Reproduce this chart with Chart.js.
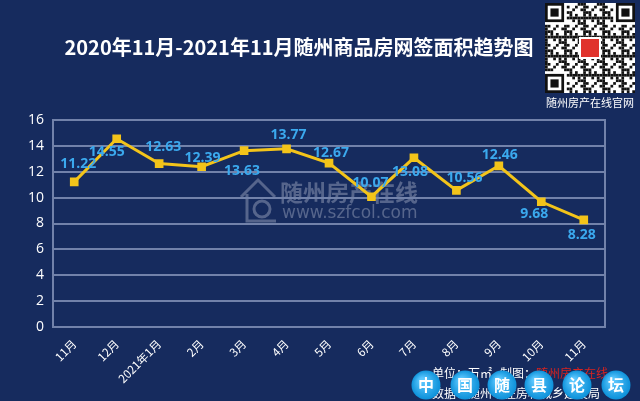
<!DOCTYPE html>
<html>
<head>
<meta charset="utf-8">
<title>随州商品房网签面积趋势图</title>
<script src="https://cdn.jsdelivr.net/npm/chart.js"></script>
<style>
  html, body { margin: 0; padding: 0; background: #162b5e; }
  #wrap { width: 640px; height: 401px; position: relative; }
</style>
</head>
<body>
<div id="wrap"><canvas id="trend" width="640" height="401"></canvas></div>
<script>
// data
const months = ['11月', '12月', '2021年1月', '2月', '3月', '4月', '5月', '6月', '7月', '8月', '9月', '10月', '11月'];
const area = [11.22, 14.55, 12.63, 12.39, 13.63, 13.77, 12.67, 10.07, 13.08, 10.56, 12.46, 9.68, 8.28];
const yTicks = [0, 2, 4, 6, 8, 10, 12, 14, 16];

// where each value label sits relative to its point (dx, dy)
const labelShift = [[4, -18], [-10, 13], [4, -17], [1, -9], [-2, 20], [2, -14], [2, -10],
                    [-1, -14], [-4, 14], [8, -12], [1, -11], [-7, 12], [-2, 15]];

const CJK = '"Noto Sans CJK SC", "Noto Sans", sans-serif';

// background, title, decorations
const backdrop = {
  id: 'backdrop',
  beforeDraw(chart) {
    const ctx = chart.ctx;
    ctx.save();
    ctx.fillStyle = '#162b5e';
    ctx.fillRect(0, 0, chart.width, chart.height);

    // watermark in the middle
    ctx.fillStyle = 'rgba(150,160,185,0.5)';
    ctx.font = 'bold 23px ' + CJK;
    ctx.textBaseline = 'middle';
    ctx.fillText('随州房产在线', 280, 192);
    ctx.font = '17px "DejaVu Sans", sans-serif';
    ctx.fillText('www.szfcol.com', 282, 214);
    // little house
    ctx.strokeStyle = 'rgba(150,160,185,0.5)';
    ctx.lineWidth = 3;
    ctx.beginPath();
    ctx.moveTo(241, 197); ctx.lineTo(258, 180); ctx.lineTo(275, 197);
    ctx.moveTo(247, 194); ctx.lineTo(247, 221); ctx.lineTo(276, 221);
    ctx.stroke();
    ctx.beginPath();
    ctx.arc(262, 209, 8, 0, Math.PI * 2);
    ctx.stroke();
    ctx.restore();
  },
  afterDraw(chart) {
    const ctx = chart.ctx;
    ctx.save();
    // title
    ctx.fillStyle = '#ffffff';
    ctx.font = 'bold 20px ' + CJK;
    ctx.textAlign = 'center';
    ctx.textBaseline = 'middle';
    ctx.fillText('2020年11月-2021年11月随州商品房网签面积趋势图', 299, 47);

    // QR-like block top right
    const qx = 545, qy = 3, qs = 90, n = 33, m = qs / n;
    ctx.fillStyle = '#ffffff';
    ctx.fillRect(qx, qy, qs, qs);
    ctx.fillStyle = '#111111';
    for (let r = 0; r < n; r++) {
      for (let c = 0; c < n; c++) {
        const finder = (r < 8 && c < 8) || (r < 8 && c > n - 9) || (r > n - 9 && c < 8);
        if (finder) continue;
        if (((r * 7 + c * 13 + r * c * 3) % 7) < 3) ctx.fillRect(qx + c * m, qy + r * m, m, m);
      }
    }
    [[0, 0], [0, n - 7], [n - 7, 0]].forEach(([r, c]) => {
      const x = qx + c * m, y = qy + r * m;
      ctx.fillStyle = '#111111'; ctx.fillRect(x, y, 7 * m, 7 * m);
      ctx.fillStyle = '#ffffff'; ctx.fillRect(x + m, y + m, 5 * m, 5 * m);
      ctx.fillStyle = '#111111'; ctx.fillRect(x + 2 * m, y + 2 * m, 3 * m, 3 * m);
    });
    ctx.fillStyle = '#ffffff';
    ctx.fillRect(qx + qs / 2 - 11, qy + qs / 2 - 11, 22, 22);
    ctx.fillStyle = '#e0332c';
    ctx.fillRect(qx + qs / 2 - 9, qy + qs / 2 - 9, 18, 18);
    ctx.font = '11px ' + CJK;
    ctx.fillStyle = '#ffffff';
    ctx.fillText('随州房产在线官网', 590, 103);

    // footnote
    ctx.textAlign = 'left';
    ctx.font = '12px ' + CJK;
    ctx.fillStyle = '#ffffff';
    ctx.fillText('单位：万㎡   制图：', 432, 373);
    const w = ctx.measureText('单位：万㎡   制图：').width;
    ctx.fillStyle = '#d9231f';
    ctx.fillText('随州房产在线', 432 + w, 373);
    ctx.fillStyle = '#ffffff';
    ctx.fillText('数据：随州市住房和城乡建设局', 432, 393);

    // forum badges
    const badge = ['中', '国', '随', '县', '论', '坛'];
    const bx = [426, 465, 502, 539, 577, 616];
    badge.forEach((t, i) => {
      const g = ctx.createRadialGradient(bx[i] - 4, 380, 2, bx[i], 385, 15);
      g.addColorStop(0, '#5cc8ff');
      g.addColorStop(1, '#0a8fd8');
      ctx.fillStyle = g;
      ctx.beginPath();
      ctx.arc(bx[i], 385, 14.5, 0, Math.PI * 2);
      ctx.fill();
      ctx.fillStyle = '#ffffff';
      ctx.font = 'bold 16px ' + CJK;
      ctx.textAlign = 'center';
      ctx.fillText(t, bx[i], 385);
    });
    ctx.restore();
  }
};

// plot frame and value labels
const frameAndLabels = {
  id: 'frameAndLabels',
  beforeDatasetsDraw(chart) {
    const a = chart.chartArea, ctx = chart.ctx;
    ctx.save();
    ctx.strokeStyle = '#7282aa';
    ctx.lineWidth = 2;
    ctx.strokeRect(a.left, a.top, a.right - a.left, a.bottom - a.top);
    ctx.restore();
  },
  afterDatasetsDraw(chart) {
    const ctx = chart.ctx;
    const pts = chart.getDatasetMeta(0).data;
    ctx.save();
    ctx.font = 'bold 14px "Open Sans", "DejaVu Sans", sans-serif';
    ctx.fillStyle = '#3ba9ee';
    ctx.textAlign = 'center';
    ctx.textBaseline = 'middle';
    pts.forEach((p, i) => {
      const s = labelShift[i];
      ctx.fillText(area[i].toFixed(2), p.x + s[0], p.y + s[1]);
    });
    ctx.restore();
  }
};

new Chart(document.getElementById('trend'), {
  type: 'line',
  data: {
    labels: months,
    datasets: [{
      data: area,
      borderColor: '#f3c41a',
      backgroundColor: '#f3c41a',
      borderWidth: 3,
      pointStyle: 'rect',
      pointRadius: 4,
      tension: 0
    }]
  },
  options: {
    responsive: false,
    animation: false,
    events: [],
    layout: { padding: { top: 120, right: 35, bottom: 0, left: 0 } },
    plugins: { legend: { display: false }, title: { display: false }, tooltip: { enabled: false } },
    scales: {
      x: {
        offset: true,
        grid: { display: false },
        border: { display: false },
        afterFit(s) { s.height = 74; },
        ticks: {
          color: '#ffffff',
          font: { size: 11.5, family: CJK },
          minRotation: 45,
          maxRotation: 45,
          padding: 2
        }
      },
      y: {
        min: 0,
        max: 16,
        afterFit(s) { s.width = 53; },
        afterBuildTicks(s) { s.ticks = yTicks.map(v => ({ value: v })); },
        grid: { color: '#7282aa', lineWidth: 2, drawTicks: false },
        border: { display: false },
        ticks: {
          color: '#ffffff',
          font: { size: 14, family: '"Open Sans", "DejaVu Sans", sans-serif' },
          padding: 9
        }
      }
    }
  },
  plugins: [backdrop, frameAndLabels]
});
</script>
</body>
</html>
